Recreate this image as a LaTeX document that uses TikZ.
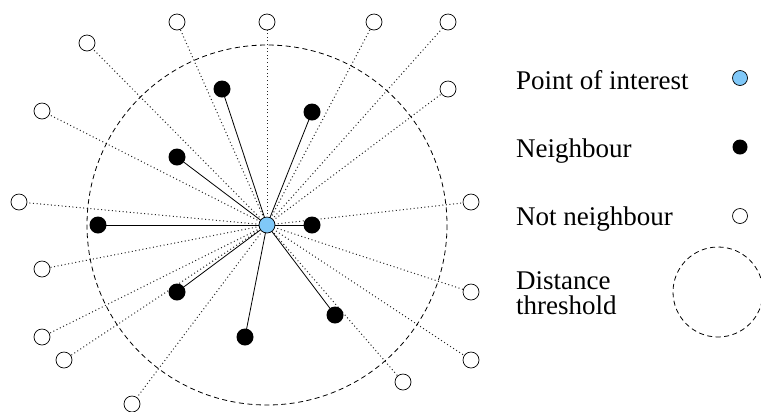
\documentclass[tikz,border=0pt]{standalone}
\usepackage{fontspec}
\setmainfont{Liberation Serif}
\usetikzlibrary{backgrounds}
\definecolor{poiblue}{RGB}{128,200,248}
\tikzset{
  poi/.style={circle, draw=black, fill=poiblue, line width=0.7bp, minimum size=16bp, inner sep=0pt},
  nbr/.style={circle, fill=black, minimum size=17bp, inner sep=0pt},
  far/.style={circle, draw=black, fill=white, line width=0.7bp, minimum size=16bp, inner sep=0pt},
  link/.style={line width=0.8bp, black},
  nolink/.style={line width=1bp, black!85, dash pattern=on 1bp off 2.6bp},
  threshold/.style={line width=0.8bp, black, dash pattern=on 5bp off 3.5bp},
  legend/.style={anchor=base west, inner sep=0pt, font=\fontsize{27bp}{25bp}\selectfont, align=left}
}
\begin{document}
\begin{tikzpicture}[x=1bp, y=-1bp]
\useasboundingbox (0,0) rectangle (761,411);

% point of interest
\node[poi] (P) at (267,225) {};

% neighbours inside the threshold
\node[nbr] (n1) at (222,89) {};
\node[nbr] (n2) at (177,157) {};
\node[nbr] (n3) at (312,112) {};
\node[nbr] (n4) at (98,225) {};
\node[nbr] (n5) at (177,292) {};
\node[nbr] (n6) at (245,337) {};
\node[nbr] (n7) at (312,225) {};
\node[nbr] (n8) at (335,315) {};

% points outside the threshold
\node[far] (f1) at (177,22) {};
\node[far] (f2) at (267,22) {};
\node[far] (f3) at (374,22) {};
\node[far] (f4) at (448,22) {};
\node[far] (f5) at (87,43) {};
\node[far] (f6) at (42,111) {};
\node[far] (f7) at (19,202) {};
\node[far] (f8) at (42,269) {};
\node[far] (f9) at (42,337) {};
\node[far] (f10) at (64,360) {};
\node[far] (f11) at (132,404) {};
\node[far] (f12) at (448,89) {};
\node[far] (f13) at (471,202) {};
\node[far] (f14) at (471,292) {};
\node[far] (f15) at (471,360) {};
\node[far] (f16) at (403,382) {};

\begin{pgfonlayer}{background}
  \foreach \f in {f1,f2,f3,f4,f5,f6,f7,f8,f9,f10,f11,f12,f13,f14,f15,f16}
    \draw[nolink] (P.center) -- (\f.center);
  \foreach \n in {n1,n2,n3,n4,n5,n6,n7,n8}
    \draw[link] (P.center) -- (\n.center);
  \draw[threshold] (P.center) circle[radius=180];
\end{pgfonlayer}

% legend
\node[legend] (lp) at (516,89) {Point of interest};
\node[legend] (ln) at (516,157) {Neighbour};
\node[legend] (lf) at (516,225) {Not neighbour};
\node[legend] (ld) at (516,314) {Distance\\threshold};
\node[poi, minimum size=15bp] (sp) at (740,78) {};
\node[nbr, minimum size=15bp] (sn) at (740,147) {};
\node[far, minimum size=15bp] (sf) at (740,216) {};
\coordinate (sd) at (718,292);
\draw[threshold] (sd) circle[radius=45];
\end{tikzpicture}
\end{document}
